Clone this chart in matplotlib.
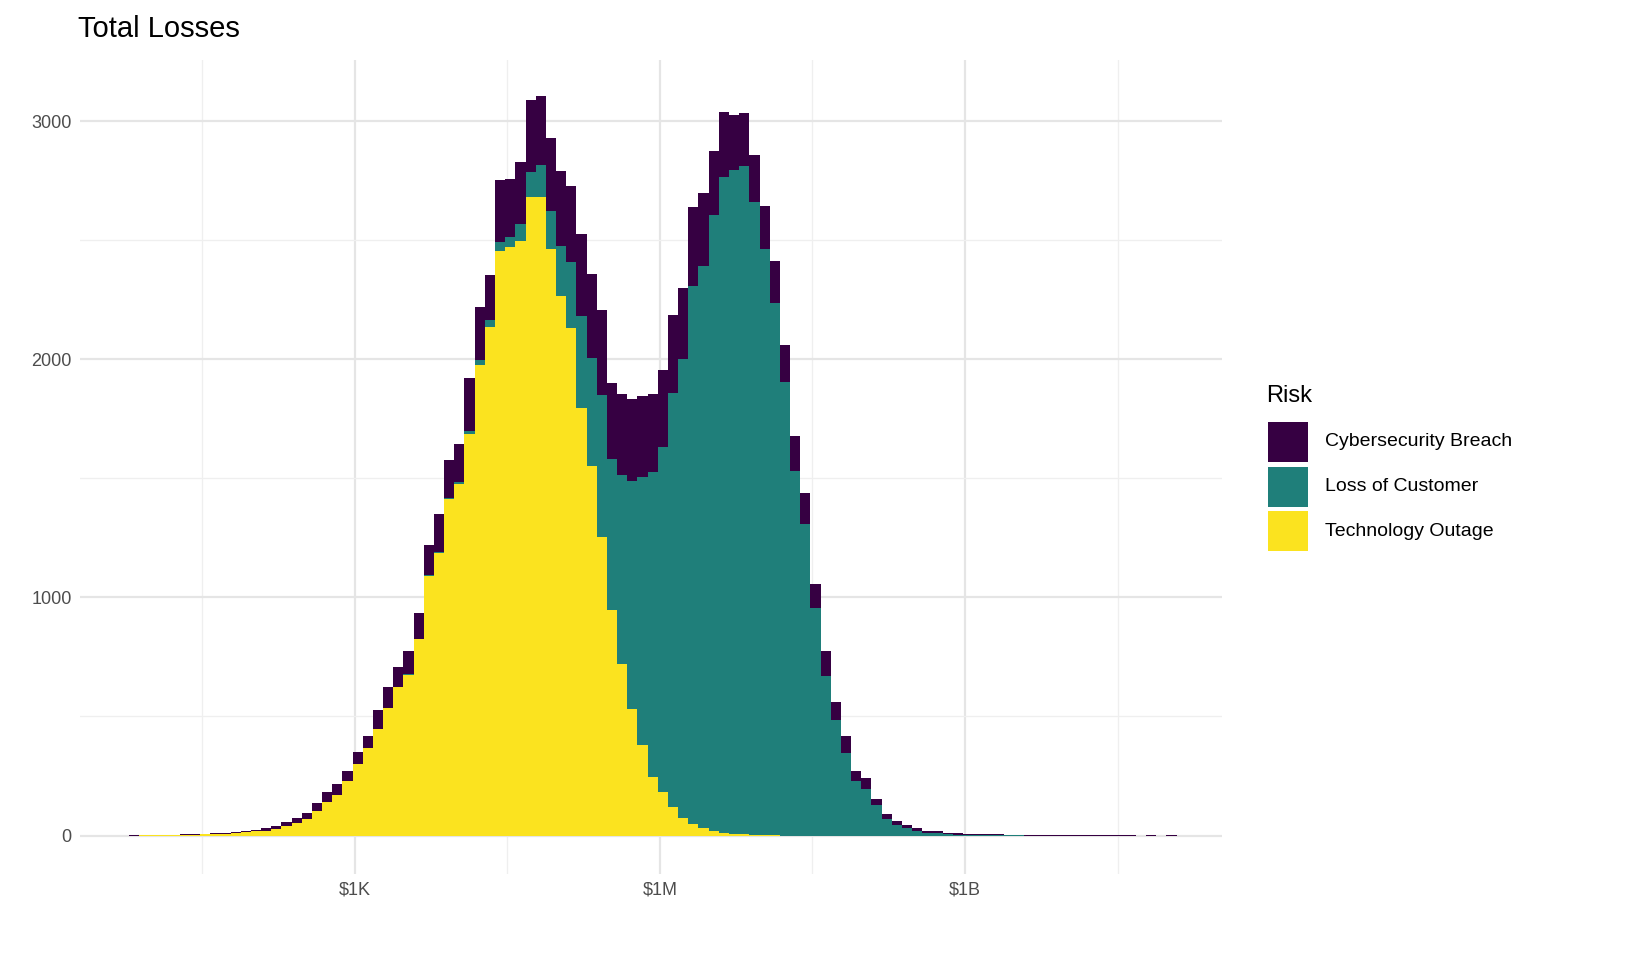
import numpy as np
import matplotlib
matplotlib.use('Agg')
import matplotlib.pyplot as plt
from matplotlib.patches import Rectangle

plt.rcParams['font.family'] = ['Liberation Sans', 'DejaVu Sans']

# histogram bins in log10(dollars), width 0.1, first edge 0.78
bin_start = 0.78
bin_width = 0.1

tech = [0, 1, 1, 2, 2, 3, 4, 5, 6, 8, 10, 13, 17, 20, 27, 38, 52,
        70, 101, 142, 170, 229, 302, 368, 447, 535, 624, 674, 824, 1091,
        1186, 1415, 1476, 1686, 1976, 2138, 2454, 2472, 2496, 2683, 2683,
        2466, 2266, 2132, 1794, 1553, 1253, 947, 721, 532, 379, 245, 182,
        120, 75, 50, 30, 20, 12, 8, 5, 3, 2, 1, 0, 0, 0, 0, 0, 0, 0, 0,
        0, 0, 0, 0, 0, 0, 0, 0, 0, 0, 0, 0, 0, 0, 0, 0, 0, 0, 0, 0, 0,
        0, 0, 0, 0, 0, 0, 0, 0, 0, 0]
loss = [0] * 17 + [0, 0, 0, 0, 0, 0, 0, 0, 2, 2, 3, 3, 5,
        6, 5, 8, 13, 20, 26, 38, 43, 71, 105, 135, 158, 210, 279, 387,
        455, 599, 634, 793, 958, 1127, 1284, 1452, 1739, 1925, 2260, 2361,
        2588, 2756, 2788, 2809, 2657, 2460, 2236, 1907, 1533, 1308, 954,
        672, 484, 345, 227, 197, 130, 70, 46, 30, 20, 12, 9, 6,
        4, 3, 2, 2, 1, 1, 1, 0, 0, 0, 0, 0, 0, 0, 0, 0, 0, 0, 0, 0, 0, 0]
cyber = [1, 1, 1, 1, 2, 2, 2, 3, 4, 4, 5, 7, 8, 10, 13, 17, 23,
         25, 37, 40, 45, 44, 50, 51, 81, 85, 81, 97, 109, 123,
         160, 157, 162, 222, 225, 189, 261, 242, 263, 302, 288, 306, 316,
         318, 346, 351, 357, 322, 341, 342, 342, 326, 322, 326, 302, 330,
         310, 269, 271, 229, 221, 197, 182, 178, 154, 145, 129, 101, 105,
         75, 75, 46, 43, 25, 22, 17, 15, 13, 9, 8, 6,
         6, 5, 5, 4, 4, 3, 3, 3, 2, 2, 2, 2, 1, 1, 1, 1, 1, 1, 0, 1, 0, 1]

risks = ['Cybersecurity Breach', 'Loss of Customer', 'Technology Outage']
colors = ['#360042', '#1F7F7A', '#FBE31F']
tick_pos = [3, 6, 9]
tick_labels = ['$1K', '$1M', '$1B']

tech = np.array(tech)
loss = np.array(loss)
cyber = np.array(cyber)
left = bin_start + bin_width * np.arange(len(tech))

fig = plt.figure(figsize=(16.32, 9.6), dpi=100)
ax = fig.add_axes([0.049, 0.09, 0.7, 0.848])

ax.bar(left, tech, width=bin_width, align='edge', color=colors[2], linewidth=0)
ax.bar(left, loss, width=bin_width, align='edge', bottom=tech, color=colors[1], linewidth=0)
ax.bar(left, cyber, width=bin_width, align='edge', bottom=tech + loss, color=colors[0], linewidth=0)

ax.set_xlim(0.3, 11.53)
ax.set_ylim(-160, 3260)
ax.set_xticks(tick_pos)
ax.set_xticklabels(tick_labels)
ax.set_xticks([1.5, 4.5, 7.5, 10.5], minor=True)
ax.set_yticks([0, 1000, 2000, 3000])
ax.set_yticks([500, 1500, 2500], minor=True)
ax.grid(which='major', color='#e5e5e5', linewidth=1.6)
ax.grid(which='minor', color='#efefef', linewidth=0.9)
ax.set_axisbelow(True)
for s in ax.spines.values():
    s.set_visible(False)
ax.tick_params(which='both', length=0, labelsize=13, labelcolor='#4d4d4d', pad=6)

fig.text(0.048, 0.97, 'Total Losses', fontsize=21, va='center', ha='left')

# legend
fig.text(0.776, 0.588, 'Risk', fontsize=17, va='center')
for i, (name, c) in enumerate(zip(risks, colors)):
    y0 = 960 - 462 - i * 44.5
    fig.patches.append(Rectangle((1268 / 1632, y0 / 960), 40 / 1632, 40 / 960,
                                 transform=fig.transFigure, color=c, linewidth=0))
    fig.text(1325 / 1632, (y0 + 20) / 960, name, fontsize=14, va='center')

fig.savefig('out.png', dpi=100)
